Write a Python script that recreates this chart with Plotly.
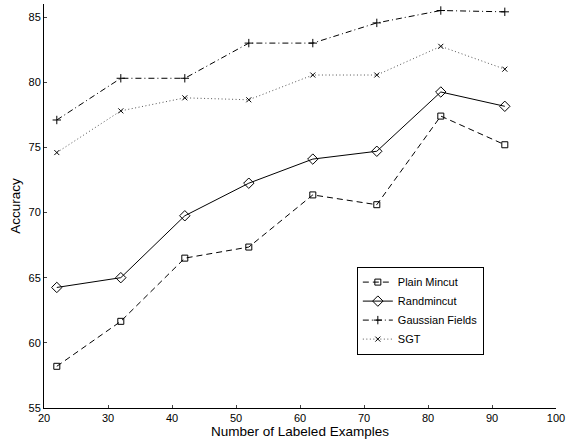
import plotly.graph_objects as go

x_labeled = [22, 32, 42, 52, 62, 72, 82, 92]
plain_mincut = [58.2, 61.65, 66.5, 67.35, 71.35, 70.6, 77.4, 75.2]
randmincut = [64.25, 65.0, 69.75, 72.25, 74.1, 74.7, 79.25, 78.15]
gaussian_fields = [77.1, 80.3, 80.3, 83.0, 83.0, 84.55, 85.5, 85.4]
sgt = [74.6, 77.8, 78.8, 78.65, 80.55, 80.55, 82.75, 81.0]

x_ticks = [20, 30, 40, 50, 60, 70, 80, 90, 100]
y_ticks = [55, 60, 65, 70, 75, 80, 85]

FONT = "Liberation Sans, Arial, Helvetica, sans-serif"

fig = go.Figure()
series = [
    ("Plain Mincut", plain_mincut, "6px,4px", "black", "square-open", 6),
    ("Randmincut", randmincut, "solid", "black", "diamond-open", 8),
    ("Gaussian Fields", gaussian_fields, "6px,3px,1px,3px", "black", "cross-thin-open", 6),
    ("SGT", sgt, "1px,2.5px", "#555555", "x-thin-open", 5),
]
for name, ys, dash, lc, sym, sz in series:
    fig.add_trace(go.Scatter(
        x=x_labeled, y=ys, name=name, mode="lines+markers",
        line=dict(color=lc, width=1, dash=dash),
        marker=dict(symbol=sym, size=sz, color="black",
                    line=dict(color="black", width=1)),
    ))

fig.update_layout(
    width=570, height=446,
    margin=dict(l=44, r=14, t=4, b=38),
    paper_bgcolor="white", plot_bgcolor="white",
    font=dict(family=FONT, size=11, color="black"),
    showlegend=True,
    legend=dict(
        x=0.611, y=0.35, xanchor="left", yanchor="top",
        bordercolor="black", borderwidth=1, bgcolor="white",
        font=dict(size=11, family=FONT), tracegroupgap=0,
        itemwidth=30,
    ),
    xaxis=dict(
        range=[20, 100], tickvals=x_ticks, ticks="inside", ticklen=3,
        showline=True, linecolor="black", linewidth=1, showgrid=False,
        zeroline=False, mirror=False,
        title=dict(text="Number of Labeled Examples", font=dict(size=13.5), standoff=1),
    ),
    yaxis=dict(
        range=[55, 86], tickvals=y_ticks, ticks="inside", ticklen=3,
        showline=True, linecolor="black", linewidth=1, showgrid=False,
        zeroline=False, mirror=False,
        title=dict(text="Accuracy", font=dict(size=13.5), standoff=4),
    ),
)

fig.write_html("out.html", config={"displayModeBar": False},
               post_script="document.body.style.margin='0px';")
